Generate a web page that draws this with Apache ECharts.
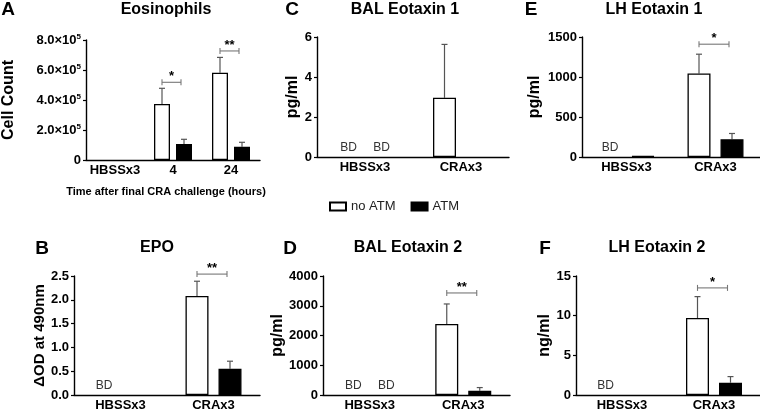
<!DOCTYPE html>
<html><head><meta charset="utf-8">
<script src="https://cdn.jsdelivr.net/npm/echarts@6/dist/echarts.min.js"></script>
<style>html,body{margin:0;padding:0;background:#fff}#c{width:760px;height:412px}</style>
</head><body><div id="c"></div>
<script>
const FONT = 'Arial, "Liberation Sans", Helvetica, sans-serif';
const legendNames = ['no ATM', 'ATM'];

// ---- Panel A: Eosinophils ----
const letterA = 'A', titleA = 'Eosinophils', yNameA = 'Cell Count';
const xNameA = 'Time after final CRA challenge (hours)';
const catsA = ['HBSSx3', '4', '24'];
const noAtmA = [0, 373000, 582000];
const noAtmErrA = [null, 478000, 684000];
const atmA = [0, 107000, 89000];
const atmErrA = [null, 138000, 118000];
const bdNoAtmA = [false, false, false];
const bdAtmA = [false, false, false];
const sigA = [[1, 518000, '*'], [2, 727000, '**']];
const yTicksA = [0, 200000, 400000, 600000, 800000];

// ---- Panel B: EPO ----
const letterB = 'B', titleB = 'EPO', yNameB = 'ΔOD at 490nm';
const catsB = ['HBSSx3', 'CRAx3'];
const noAtmB = [0, 2.08];
const noAtmErrB = [null, 2.39];
const atmB = [0, 0.55];
const atmErrB = [null, 0.71];
const bdNoAtmB = [true, false];
const bdAtmB = [false, false];
const sigB = [[1, 2.54, '**']];
const yTicksB = [0, 0.5, 1.0, 1.5, 2.0, 2.5];

// ---- Panel C: BAL Eotaxin 1 ----
const letterC = 'C', titleC = 'BAL Eotaxin 1', yNameC = 'pg/ml';
const catsC = ['HBSSx3', 'CRAx3'];
const noAtmC = [0, 2.96];
const noAtmErrC = [null, 5.63];
const atmC = [0, 0];
const atmErrC = [null, null];
const bdNoAtmC = [true, false];
const bdAtmC = [true, false];
const sigC = [];
const yTicksC = [0, 2, 4, 6];

// ---- Panel D: BAL Eotaxin 2 ----
const letterD = 'D', titleD = 'BAL Eotaxin 2', yNameD = 'pg/ml';
const catsD = ['HBSSx3', 'CRAx3'];
const noAtmD = [0, 2390];
const noAtmErrD = [null, 3060];
const atmD = [0, 140];
const atmErrD = [null, 250];
const bdNoAtmD = [true, false];
const bdAtmD = [true, false];
const sigD = [[1, 3430, '**']];
const yTicksD = [0, 1000, 2000, 3000, 4000];

// ---- Panel E: LH Eotaxin 1 ----
const letterE = 'E', titleE = 'LH Eotaxin 1', yNameE = 'pg/ml';
const catsE = ['HBSSx3', 'CRAx3'];
const noAtmE = [0, 1045];
const noAtmErrE = [null, 1285];
const atmE = [12, 222];
const atmErrE = [null, 294];
const bdNoAtmE = [true, false];
const bdAtmE = [false, false];
const sigE = [[1, 1410, '*']];
const yTicksE = [0, 500, 1000, 1500];

// ---- Panel F: LH Eotaxin 2 ----
const letterF = 'F', titleF = 'LH Eotaxin 2', yNameF = 'ng/ml';
const catsF = ['HBSSx3', 'CRAx3'];
const noAtmF = [0, 9.7];
const noAtmErrF = [null, 12.4];
const atmF = [0, 1.55];
const atmErrF = [null, 2.32];
const bdNoAtmF = [true, false];
const bdAtmF = [false, false];
const sigF = [[1, 13.5, '*']];
const yTicksF = [0, 5, 10, 15];

const panels = [
  {letter: letterA, title: titleA, yName: yNameA, xName: xNameA, cats: catsA, w: noAtmA, we: noAtmErrA, b: atmA, be: atmErrA, bdw: bdNoAtmA, bdb: bdAtmA, sig: sigA, ticks: yTicksA,
   fmt: v => v === 0 ? '0' : '{m|' + (v / 1e5).toFixed(1) + '×10}{s|5}'},
  {letter: letterB, title: titleB, yName: yNameB, cats: catsB, w: noAtmB, we: noAtmErrB, b: atmB, be: atmErrB, bdw: bdNoAtmB, bdb: bdAtmB, sig: sigB, ticks: yTicksB,
   fmt: v => v.toFixed(1)},
  {letter: letterC, title: titleC, yName: yNameC, cats: catsC, w: noAtmC, we: noAtmErrC, b: atmC, be: atmErrC, bdw: bdNoAtmC, bdb: bdAtmC, sig: sigC, ticks: yTicksC, fmt: v => String(v)},
  {letter: letterD, title: titleD, yName: yNameD, cats: catsD, w: noAtmD, we: noAtmErrD, b: atmD, be: atmErrD, bdw: bdNoAtmD, bdb: bdAtmD, sig: sigD, ticks: yTicksD, fmt: v => String(v)},
  {letter: letterE, title: titleE, yName: yNameE, cats: catsE, w: noAtmE, we: noAtmErrE, b: atmE, be: atmErrE, bdw: bdNoAtmE, bdb: bdAtmE, sig: sigE, ticks: yTicksE, fmt: v => String(v)},
  {letter: letterF, title: titleF, yName: yNameF, cats: catsF, w: noAtmF, we: noAtmErrF, b: atmF, be: atmErrF, bdw: bdNoAtmF, bdb: bdAtmF, sig: sigF, ticks: yTicksF, fmt: v => String(v)}
];

// layout (positions / sizes only)
const layout = [
  {grid: [82, 40, 178, 120], barW: 16, gapPx: 6, nameGap: 69, nameSize: 16, title: [166, 10], letter: [8, 10]},
  {grid: [74, 276, 186, 120], barW: 23, gapPx: 10, nameGap: 26, nameSize: 15, title: [157, 248], letter: [42, 249]},
  {grid: [317, 37, 192, 120], barW: 23, gapPx: 10, nameGap: 5, nameSize: 16, title: [405, 10], letter: [292, 10]},
  {grid: [323, 276, 187, 120], barW: 23, gapPx: 10, nameGap: 30, nameSize: 16, title: [408, 248], letter: [290, 249]},
  {grid: [582, 37, 178, 120], barW: 23, gapPx: 10, nameGap: 39, nameSize: 16, title: [654, 10], letter: [531, 10]},
  {grid: [576, 276, 184, 120], barW: 23, gapPx: 10, nameGap: 18, nameSize: 16, title: [657, 248], letter: [545, 249]}
];

const grids = [], xAxes = [], yAxes = [], series = [], graphics = [];

function barItem(v, bd) {
  const item = {value: v};
  if (v === 0) item.itemStyle = {borderWidth: 0, color: 'rgba(0,0,0,0)', borderColor: 'rgba(0,0,0,0)'};
  if (bd) item.label = {show: true, position: 'top', distance: 3, formatter: 'BD', color: '#333', fontSize: 12, fontFamily: FONT};
  return item;
}

panels.forEach((p, k) => {
  const L = layout[k];
  const off = (L.barW + L.gapPx) / 2;
  grids.push({left: L.grid[0], top: L.grid[1], width: L.grid[2], height: L.grid[3], containLabel: false});
  xAxes.push({
    type: 'category', gridIndex: k, data: p.cats,
    axisLine: {lineStyle: {color: '#000', width: 1.4}},
    axisTick: {alignWithLabel: true, length: 4, lineStyle: {color: '#000', width: 1.2}},
    axisLabel: {interval: 0, margin: 4, color: '#000', fontWeight: 'bold', fontSize: 13, fontFamily: FONT},
    name: p.xName || '', nameLocation: 'middle', nameGap: 26,
    nameTextStyle: {color: '#000', fontWeight: 'bold', fontSize: 11, fontFamily: FONT, padding: [0, 14, 0, 0]}
  });
  const t = p.ticks;
  yAxes.push({
    type: 'value', gridIndex: k, min: t[0], max: t[t.length - 1], interval: t[1] - t[0],
    axisLine: {show: true, lineStyle: {color: '#000', width: 1.4}},
    axisTick: {show: true, length: 3, lineStyle: {color: '#000', width: 1.2}},
    splitLine: {show: false},
    axisLabel: {margin: 5, color: '#000', fontWeight: 'bold', fontSize: 13, fontFamily: FONT, formatter: p.fmt,
      rich: {m: {fontSize: 13, fontWeight: 'bold', fontFamily: FONT, color: '#000', lineHeight: 14},
             s: {fontSize: 8, fontWeight: 'bold', fontFamily: FONT, color: '#000', lineHeight: 8, verticalAlign: 'top'}}},
    name: p.yName, nameLocation: 'middle', nameGap: L.nameGap,
    nameTextStyle: {color: '#000', fontWeight: 'bold', fontSize: L.nameSize, fontFamily: FONT}
  });
  series.push({
    name: legendNames[0], type: 'bar', xAxisIndex: k, yAxisIndex: k, barWidth: L.barW, barGap: (L.gapPx / L.barW * 100) + '%',
    itemStyle: {color: '#fff', borderColor: '#000', borderWidth: 1.3},
    data: p.w.map((v, i) => barItem(v, p.bdw[i])), animation: false, z: 3
  });
  series.push({
    name: legendNames[1], type: 'bar', xAxisIndex: k, yAxisIndex: k, barWidth: L.barW, barGap: (L.gapPx / L.barW * 100) + '%',
    itemStyle: {color: '#000', borderColor: '#000', borderWidth: 1.3},
    data: p.b.map((v, i) => barItem(v, p.bdb[i])), animation: false, z: 3
  });
  // error bars
  [[p.w, p.we, -off], [p.b, p.be, off]].forEach(([vals, errs, dx]) => {
    const d = [];
    vals.forEach((v, i) => { if (errs[i] != null) d.push([i, v, errs[i]]); });
    series.push({
      type: 'custom', xAxisIndex: k, yAxisIndex: k, data: d, encode: {x: 0, y: [1, 2]}, animation: false, z: 2,
      renderItem: (params, api) => {
        const i = api.value(0);
        const p0 = api.coord([i, api.value(1)]);
        const p1 = api.coord([i, api.value(2)]);
        const x = p0[0] + dx;
        const st = {stroke: '#555', lineWidth: 1.2};
        return {type: 'group', children: [
          {type: 'line', shape: {x1: x, y1: p0[1], x2: x, y2: p1[1]}, style: st},
          {type: 'line', shape: {x1: x - 3, y1: p1[1], x2: x + 3, y2: p1[1]}, style: st}
        ]};
      }
    });
  });
  // significance brackets
  if (p.sig.length) {
    const sig = p.sig;
    series.push({
      type: 'custom', xAxisIndex: k, yAxisIndex: k, data: sig.map(s => [s[0], s[1]]), encode: {x: 0, y: 1},
      animation: false, z: 4, clip: false,
      renderItem: (params, api) => {
        const c = api.coord([api.value(0), api.value(1)]);
        const x1 = c[0] - off, x2 = c[0] + off - 3, y = c[1];
        const st = {stroke: '#777', lineWidth: 1.1};
        return {type: 'group', children: [
          {type: 'line', shape: {x1: x1, y1: y, x2: x2, y2: y}, style: st},
          {type: 'line', shape: {x1: x1, y1: y - 3, x2: x1, y2: y + 3}, style: st},
          {type: 'line', shape: {x1: x2, y1: y - 3, x2: x2, y2: y + 3}, style: st},
          {type: 'text', x: (x1 + x2) / 2, y: y + 1, style: {text: sig[params.dataIndex][2], fill: '#000', fontSize: 13, fontWeight: 'bold', fontFamily: FONT, align: 'center', verticalAlign: 'bottom'}}
        ]};
      }
    });
  }
  graphics.push({type: 'text', x: L.title[0], y: L.title[1], style: {text: p.title, fill: '#000', fontSize: 16, fontWeight: 'bold', fontFamily: FONT, align: 'center', verticalAlign: 'middle'}});
  graphics.push({type: 'text', x: L.letter[0], y: L.letter[1], style: {text: p.letter, fill: '#000', fontSize: 19, fontWeight: 'bold', fontFamily: FONT, align: 'center', verticalAlign: 'middle'}});
});

const chart = echarts.init(document.getElementById('c'), null, {renderer: 'canvas'});
chart.setOption({
  backgroundColor: '#fff',
  animation: false,
  legend: {data: legendNames, left: 329, top: 200, padding: 0, itemWidth: 16, itemHeight: 8, itemGap: 15, icon: 'rect', selectedMode: false,
    textStyle: {fontSize: 13, fontFamily: FONT, color: '#222'}},
  grid: grids, xAxis: xAxes, yAxis: yAxes, series: series, graphic: graphics
});
</script></body></html>
